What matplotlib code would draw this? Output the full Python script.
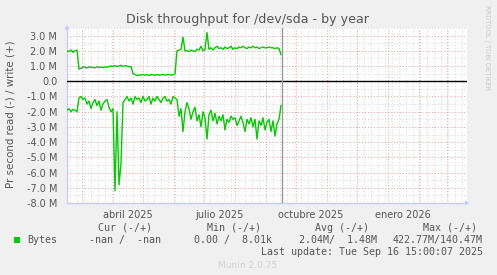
"""
plot.py - Munin style yearly disk throughput graph for /dev/sda.
"""

import datetime as dt

import matplotlib
matplotlib.use("Agg")
import matplotlib.pyplot as plt
import matplotlib.dates as mdates
from matplotlib.ticker import FuncFormatter, MultipleLocator

BG        = "#F0F0F0"
PLOT_BG   = "#FFFFFF"
LINE      = "#00CC00"
TEXT      = "#555555"
MAJ_GRID  = "#E8A0A0"
MIN_GRID  = "#D8D8D8"
AXIS_COL  = "#C8CCF4"
FAINT     = "#C8C8C8"

W, H = 497, 275

# ----------------------------------------------------------------
# Data (MB/s), one sample every 2 days starting 14 Feb 2025
# ----------------------------------------------------------------
START     = dt.datetime(2025, 2, 14)
STEP_DAYS = 2

write_mb = [
    2.0, 1.95, 2.05, 1.9, 2.0, 2.05,
    0.8,
    0.85, 0.95, 0.9, 0.88, 0.95, 0.9, 0.92, 0.88, 0.95, 0.9, 0.93, 0.9, 0.95,
    0.92, 0.97, 1.0, 0.98, 1.02, 0.97, 1.0, 1.05, 0.98, 1.02, 1.0, 0.95, 0.97,
    0.5, 0.45, 0.38, 0.42, 0.4, 0.45, 0.4, 0.42, 0.38, 0.45, 0.42, 0.4, 0.44,
    0.4, 0.42, 0.45, 0.4, 0.43, 0.45, 0.4, 0.42, 0.48,
    2.0, 2.05, 2.1, 2.9, 2.0,
    2.0, 1.95, 2.05, 2.0, 1.95, 2.1, 2.05, 2.3, 2.0, 2.1, 3.2, 2.1, 2.2, 2.05,
    2.2, 2.3, 2.15, 2.2, 2.1, 2.25, 2.15, 2.2, 2.3, 2.1, 2.2, 2.15, 2.25, 2.2,
    2.3, 2.2, 2.15, 2.25, 2.2, 2.3, 2.2, 2.25, 2.15, 2.2, 2.25, 2.2, 2.2, 2.25,
    2.2, 2.2, 2.15, 2.2, 2.15, 1.75,
]

read_mb = [
    1.9, 1.8, 2.0, 1.85, 1.9, 2.0,
    1.1,
    1.0, 1.2, 1.1, 1.5, 1.3, 1.8, 1.4, 1.2, 1.6, 1.3, 1.9, 1.5, 1.3, 1.2, 1.7, 2.0,
    1.8, 7.2, 2.0, 6.8, 5.4, 1.4,
    1.2, 1.0, 1.3, 1.1, 1.5, 1.0, 1.2, 1.1, 1.4, 1.0, 1.3, 1.2, 1.0, 1.5, 1.1,
    1.3, 1.0, 1.2, 1.4, 1.1, 1.0, 1.3, 1.2, 1.5, 1.0, 1.1,
    1.2, 2.3, 1.8, 3.3, 2.0,
    1.4, 1.8, 2.5, 2.0, 1.7, 2.6, 2.2, 3.0, 2.0, 2.4, 3.8, 2.2, 1.9, 2.6, 2.1,
    2.8, 2.3, 2.6, 2.2, 3.2, 2.5, 2.7, 2.3, 2.5, 2.4, 2.9, 2.6, 2.3, 2.7, 3.3,
    2.5, 2.8, 2.4, 3.0, 2.5, 3.8, 2.6, 2.9, 2.4, 3.2, 2.7, 2.5, 3.3, 2.6, 3.6,
    2.8, 2.5, 1.6,
]

x_start     = dt.datetime(2025, 2, 14)
x_end       = dt.datetime(2026, 3, 21)
last_update = dt.datetime(2025, 9, 16, 15, 0, 7)

label_dates = [dt.datetime(2025, 4, 16), dt.datetime(2025, 7, 16),
               dt.datetime(2025, 10, 16), dt.datetime(2026, 1, 16)]
label_text  = ["abril 2025", "julio 2025", "octubre 2025", "enero 2026"]

legend_heads = ["Cur (-/+)", "Min (-/+)", "Avg (-/+)", "Max (-/+)"]
legend_vals  = ["-nan /  -nan", "0.00 /  8.01k", "2.04M/  1.48M", "422.77M/140.47M"]


def px(x, y):
    """pixel position -> figure fraction"""
    return x / W, 1 - y / H


# ----------------------------------------------------------------
# Figure layout
# ----------------------------------------------------------------
fig = plt.figure(figsize=(W / 100, H / 100), dpi=100, facecolor=BG)
left, top = px(67, 28)
right, bottom = px(467, 203)
ax = fig.add_axes([left, bottom, right - left, top - bottom])
ax.set_facecolor(PLOT_BG)

dates = [START + dt.timedelta(days=STEP_DAYS * i) for i in range(len(write_mb))]
ax.plot(dates, write_mb, color=LINE, linewidth=1.0, zorder=4)
ax.plot(dates, [-v for v in read_mb], color=LINE, linewidth=1.0, zorder=4)

ax.set_xlim(x_start, x_end)
ax.set_ylim(-8.0, 3.5)

# ----------------------------------------------------------------
# Grid
# ----------------------------------------------------------------
dotted = (0, (1, 2))
ax.yaxis.set_major_locator(MultipleLocator(1.0))
ax.yaxis.set_minor_locator(MultipleLocator(0.5))
ax.yaxis.set_major_formatter(
    FuncFormatter(lambda v, _: "0.0" if abs(v) < 1e-9 else f"{v:.1f} M"))
ax.grid(True, axis="y", which="major", color=MAJ_GRID, linewidth=0.7, linestyle=dotted)
ax.grid(True, axis="y", which="minor", color=MIN_GRID, linewidth=0.7, linestyle=dotted)

x0, x1 = mdates.date2num(x_start), mdates.date2num(x_end)
weeks = mdates.WeekdayLocator(byweekday=mdates.MO).tick_values(x_start, x_end)
ax.vlines([w for w in weeks if x0 < w < x1], -8.0, 3.5,
          color=MIN_GRID, linewidth=0.7, linestyle=dotted, zorder=1)
months = mdates.MonthLocator().tick_values(x_start, x_end)
ax.vlines([m for m in months if x0 < m < x1], -8.0, 3.5,
          color=MAJ_GRID, linewidth=0.7, linestyle=dotted, zorder=2)

ax.axhline(0, color="black", linewidth=1.0, zorder=3)
ax.axvline(last_update, color="#999999", linewidth=1.0, zorder=5)

ax.set_xticks(label_dates)
ax.set_xticklabels(label_text)
ax.tick_params(axis="both", which="both", length=0, labelsize=7, colors=TEXT, pad=7)
ax.tick_params(axis="x", pad=5)

for s in ("top", "right"):
    ax.spines[s].set_visible(False)
for s in ("left", "bottom"):
    ax.spines[s].set_color(AXIS_COL)
    ax.spines[s].set_linewidth(1.0)

# little arrows at the axis ends
ax.annotate("", xy=(1.014, 0), xytext=(0.99, 0), xycoords="axes fraction",
            arrowprops=dict(arrowstyle="-|>", color=AXIS_COL, lw=0, mutation_scale=9))
ax.annotate("", xy=(0, 1.035), xytext=(0, 0.99), xycoords="axes fraction",
            arrowprops=dict(arrowstyle="-|>", color=AXIS_COL, lw=0, mutation_scale=9))

# ----------------------------------------------------------------
# Texts
# ----------------------------------------------------------------
fig.text(*px(248, 19), "Disk throughput for /dev/sda - by year",
         ha="center", va="center", fontsize=9.1, color=TEXT)
fig.text(*px(11, 114), "Pr second read (-) / write (+)",
         ha="center", va="center", rotation=90, fontsize=7.4, color=TEXT)
fig.text(*px(487, 5), "RRDTOOL / TOBI OETIKER",
         ha="center", va="top", rotation=270, fontsize=4.8, color=FAINT)

mono = dict(family="DejaVu Sans Mono", fontsize=7.2, color=TEXT, va="center")
for x, t in zip([98, 207, 315, 423], legend_heads):
    fig.text(*px(x, 228), t, ha="left", **mono)
for x, t in zip([89, 194, 299, 393], legend_vals):
    fig.text(*px(x, 240), t, ha="left", **mono)
fig.text(*px(27, 240), "Bytes", ha="left", **mono)
sq_x, sq_y = px(14, 243)
fig.patches.append(plt.Rectangle((sq_x, sq_y), 6 / W, 6 / H, transform=fig.transFigure,
                                 facecolor=LINE, edgecolor="none"))
fig.text(*px(483, 252), "Last update: Tue Sep 16 15:00:07 2025", ha="right", **mono)
fig.text(*px(248, 265), "Munin 2.0.75", ha="center", va="center",
         fontsize=6.5, color="#D0D0D0")

fig.savefig("out.png", dpi=100, facecolor=BG)
plt.close(fig)
